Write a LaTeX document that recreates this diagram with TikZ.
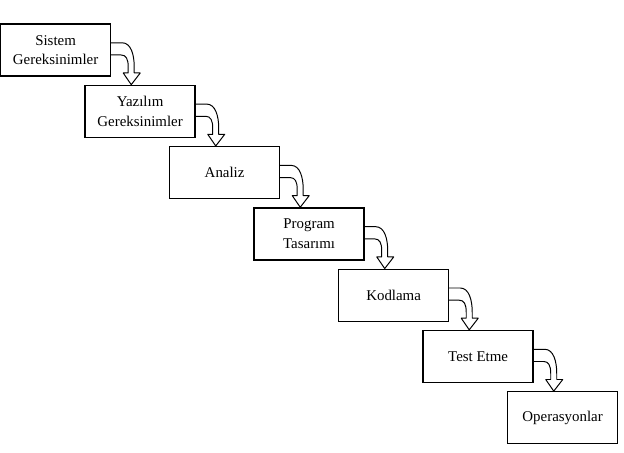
\documentclass[tikz,border=0pt]{standalone}
\usepackage{fontspec}
\setmainfont{Liberation Serif}
\usetikzlibrary{positioning, calc}
\tikzset{
box/.style={draw, line width=0.9pt, minimum width=2.75cm, minimum height=1.3cm, inner sep=0pt, align=center, font=\fontsize{10.6}{14}\selectfont}, % every phase of the waterfall
flow/.style={draw, line width=0.7pt, line join=round}, % hollow bent arrow between phases
}
\begin{document}
\begin{tikzpicture}[node distance=1.5325cm and 2.1125cm, on grid]
\useasboundingbox (0,0) rectangle (15.6,11.325);
            \node[box] (sg) at (1.39,10.075) {Sistem\\Gereksinimler};
            \node[box, below right=of sg] (yg) {Yazılım\\Gereksinimler};
            \node[box, below right=of yg] (an) {Analiz};
            \node[box, below right=of an] (pt) {Program\\Tasarımı};
            \node[box, below right=of pt] (ko) {Kodlama};
            \node[box, below right=of ko] (te) {Test Etme};
            \node[box, below right=of te] (op) {Operasyonlar};
            \foreach \a/\b in {sg/yg, yg/an, an/pt, pt/ko, ko/te, te/op}
              \draw[flow] ($(\a.east)+(0,0.18)$) -- ++(0.275,0)
                .. controls +(0.22,0) and +(0,0.3) .. ++(0.3,-0.605)
                -- ++(0,-0.15) -- ++(0.15,0)
                -- ($(\a.east |- \b.north)+(0.5,0)$)
                -- ($(\a.east)+(0.3,-0.575)$) -- ++(0.125,0)
                -- ++(0,0.15)
                .. controls +(0,0.2) and +(0.12,0) .. ++(-0.175,0.3)
                -- ($(\a.east)+(0,-0.125)$);
\end{tikzpicture}
\end{document}
